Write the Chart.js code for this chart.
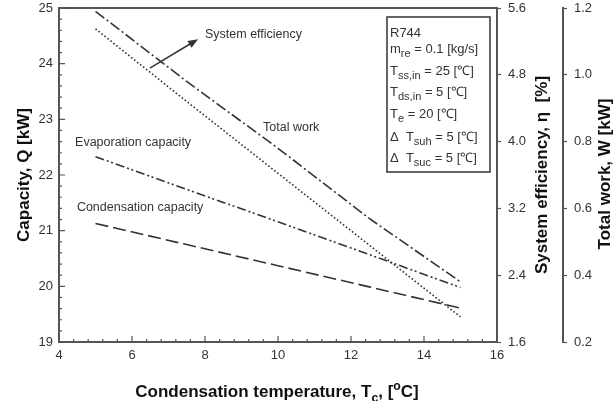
<!DOCTYPE html>
<html>
<head>
<meta charset="utf-8">
<script src="https://cdn.jsdelivr.net/npm/chart.js@4.4.1/dist/chart.umd.min.js"></script>
<style>
  html, body { margin: 0; padding: 0; background: #fff; }
  canvas { display: block; }
</style>
</head>
<body>
<canvas id="chart" width="616" height="401" style="width:616px;height:401px"></canvas>
<script>
  // condensation temperature [°C]
  const tc = [5, 7.5, 10, 12.5, 15];
  // left axis, capacity [kW]
  const condensationCap = [21.13, 20.75, 20.37, 19.99, 19.61];
  const evaporationCap  = [22.33, 21.74, 21.16, 20.57, 19.98];
  // efficiency axis [%]
  const systemEff = [5.35, 4.48, 3.62, 2.76, 1.90];
  // work axis [kW]
  const totalWork = [1.19, 0.98, 0.78, 0.57, 0.38];

  const xTicks    = [4, 6, 8, 10, 12, 14, 16];
  const capTicks  = [19, 20, 21, 22, 23, 24, 25];
  const effTicks  = [1.6, 2.4, 3.2, 4.0, 4.8, 5.6];
  const workTicks = [0.2, 0.4, 0.6, 0.8, 1.0, 1.2];

  const FONT = '"Liberation Sans", Arial, sans-serif';
  const INK = '#333';
  const AXIS = '#555';

  const pts = ys => tc.map((x, i) => ({ x, y: ys[i] }));

  function rich(ctx, parts, x, y, size, bold, align, subK = 0.72) {
    const f = s => (bold ? 'bold ' : '') + s + 'px ' + FONT;
    let w = 0;
    parts.forEach(p => { ctx.font = f(p[1] ? size * subK : size); w += ctx.measureText(p[0]).width; });
    let cx = align === 'center' ? x - w / 2 : x;
    parts.forEach(p => {
      const s = p[1] ? size * subK : size;
      ctx.font = f(s);
      const dy = p[1] === 'sub' ? size * 0.32 : p[1] === 'sup' ? -size * 0.42 : 0;
      ctx.fillText(p[0], cx, y + dy);
      cx += ctx.measureText(p[0]).width;
    });
  }

  const fixWidth = w => s => { s.width = w; s.paddingTop = 0; s.paddingBottom = 0; };

  const decor = {
    id: 'decor',
    afterDraw(chart) {
      const { ctx, chartArea: a, scales } = chart;
      const sx = scales.x, sy = scales.y;
      ctx.save();
      // top frame
      ctx.strokeStyle = AXIS; ctx.lineWidth = 2;
      ctx.beginPath(); ctx.moveTo(a.left - 1, a.top); ctx.lineTo(a.right + 1, a.top); ctx.stroke();

      // inward ticks
      ctx.lineWidth = 1.2;
      ctx.beginPath();
      for (let i = 0; i <= 30; i++) {
        const py = sy.getPixelForValue(19 + i * 0.2);
        const len = i % 5 === 0 ? 6 : 3;
        ctx.moveTo(a.left, py); ctx.lineTo(a.left + len, py);
      }
      for (let i = 0; i <= 30; i++) {
        const px = sx.getPixelForValue(4 + i * 0.4);
        const len = i % 5 === 0 ? 6 : 3;
        ctx.moveTo(px, a.bottom); ctx.lineTo(px, a.bottom - len);
      }
      ctx.stroke();

      // curve labels
      ctx.fillStyle = INK;
      ctx.textBaseline = 'middle';
      ctx.font = '12.5px ' + FONT;
      ctx.fillText('System efficiency', sx.getPixelForValue(8.0), sy.getPixelForValue(24.53));
      ctx.fillText('Total work', sx.getPixelForValue(9.59), sy.getPixelForValue(22.85));
      ctx.fillText('Evaporation capacity', sx.getPixelForValue(4.44), sy.getPixelForValue(22.58));
      ctx.fillText('Condensation capacity', sx.getPixelForValue(4.49), sy.getPixelForValue(21.41));

      // arrow
      const x0 = sx.getPixelForValue(6.49), y0 = sy.getPixelForValue(23.92);
      const x1 = sx.getPixelForValue(7.81), y1 = sy.getPixelForValue(24.44);
      const ang = Math.atan2(y1 - y0, x1 - x0);
      ctx.strokeStyle = INK; ctx.lineWidth = 1.5;
      ctx.beginPath(); ctx.moveTo(x0, y0); ctx.lineTo(x1 - 6 * Math.cos(ang), y1 - 6 * Math.sin(ang)); ctx.stroke();
      ctx.beginPath();
      ctx.moveTo(x1, y1);
      ctx.lineTo(x1 - 10 * Math.cos(ang) + 4 * Math.sin(ang), y1 - 10 * Math.sin(ang) - 4 * Math.cos(ang));
      ctx.lineTo(x1 - 10 * Math.cos(ang) - 4 * Math.sin(ang), y1 - 10 * Math.sin(ang) + 4 * Math.cos(ang));
      ctx.closePath(); ctx.fill();

      // conditions box
      ctx.lineWidth = 1.5;
      ctx.strokeRect(387, 17, 103, 155);
      ctx.textBaseline = 'alphabetic';
      const lx = 390, fs = 13, k = 0.85;
      rich(ctx, [['R744']], lx, 37, fs, false, 'left', k);
      rich(ctx, [['m'], ['re', 'sub'], [' = 0.1 [kg/s]']], lx, 53, fs, false, 'left', k);
      rich(ctx, [['T'], ['ss,in', 'sub'], [' = 25 [℃]']], lx, 75, fs, false, 'left', k);
      rich(ctx, [['T'], ['ds,in', 'sub'], [' = 5 [℃]']], lx, 96, fs, false, 'left', k);
      rich(ctx, [['T'], ['e', 'sub'], [' = 20 [℃]']], lx, 118, fs, false, 'left', k);
      rich(ctx, [['Δ  T'], ['suh', 'sub'], [' = 5 [℃]']], lx, 141, fs, false, 'left', k);
      rich(ctx, [['Δ  T'], ['suc', 'sub'], [' = 5 [℃]']], lx, 162, fs, false, 'left', k);

      // axis titles
      ctx.fillStyle = '#111';
      rich(ctx, [['Condensation temperature, T'], ['c', 'sub'], [', ['], ['o', 'sup'], ['C]']], 277, 397, 17, true, 'center');
      const vt = (x, y, parts) => {
        ctx.save(); ctx.translate(x, y); ctx.rotate(-Math.PI / 2);
        rich(ctx, parts, 0, 0, 17, true, 'center');
        ctx.restore();
      };
      vt(29, 175, [['Capacity, Q [kW]']]);
      vt(547, 175, [['System efficiency, η  [%]']]);
      vt(610, 174, [['Total work, W [kW]']]);
      ctx.restore();
    }
  };

  const line = (label, data, axis, dash) => ({
    label, data: pts(data), yAxisID: axis,
    borderColor: INK, borderWidth: 1.6, borderDash: dash,
    pointRadius: 0, fill: false, tension: 0
  });

  const tickFont = { family: FONT, size: 13 };
  const fixed = ticks => sc => { sc.ticks = ticks.map(v => ({ value: v })); };

  new Chart(document.getElementById('chart'), {
    type: 'line',
    data: {
      datasets: [
        line('Total work', totalWork, 'y2', [11, 3, 2, 3]),
        line('System efficiency', systemEff, 'y1', [1.6, 2.2]),
        line('Evaporation capacity', evaporationCap, 'y', [9, 3, 2, 2.5, 2, 3]),
        line('Condensation capacity', condensationCap, 'y', [13, 5])
      ]
    },
    plugins: [decor],
    options: {
      responsive: false,
      animation: false,
      layout: { padding: { top: 8, left: 0, right: 0, bottom: 0 } },
      plugins: { legend: { display: false }, tooltip: { enabled: false } },
      scales: {
        x: {
          type: 'linear', min: 4, max: 16,
          afterBuildTicks: fixed(xTicks),
          afterFit: s => { s.height = 59; s.paddingLeft = 0; s.paddingRight = 0; },
          grid: { display: true, drawOnChartArea: false, drawTicks: false },
          border: { color: AXIS, width: 2 },
          ticks: { color: INK, font: tickFont, padding: 6, maxRotation: 0 }
        },
        y: {
          position: 'left', min: 19, max: 25,
          afterBuildTicks: fixed(capTicks),
          afterFit: fixWidth(59),
          grid: { display: true, drawOnChartArea: false, drawTicks: false },
          border: { color: AXIS, width: 2 },
          ticks: { color: INK, font: tickFont, padding: 6 }
        },
        y1: {
          position: 'right', min: 1.6, max: 5.6,
          afterBuildTicks: fixed(effTicks),
          afterFit: fixWidth(66),
          grid: { drawOnChartArea: false, color: AXIS, tickLength: 4, tickWidth: 1.2 },
          border: { color: AXIS, width: 2 },
          ticks: { color: INK, font: tickFont, padding: 7, callback: v => v.toFixed(1) }
        },
        y2: {
          position: 'right', min: 0.2, max: 1.2,
          afterBuildTicks: fixed(workTicks),
          afterFit: fixWidth(53),
          grid: { drawOnChartArea: false, color: AXIS, tickLength: 4, tickWidth: 1.2 },
          border: { color: AXIS, width: 2 },
          ticks: { color: INK, font: tickFont, padding: 7, callback: v => v.toFixed(1) }
        }
      }
    }
  });
</script>
</body>
</html>
